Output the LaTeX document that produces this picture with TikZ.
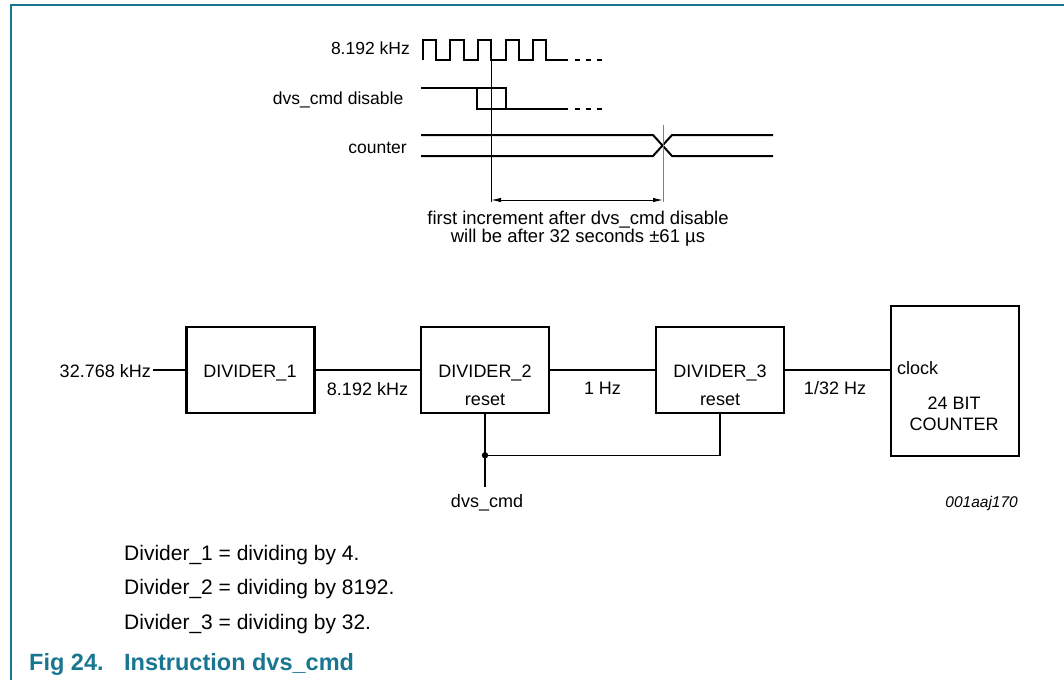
\documentclass[tikz,border=0pt]{standalone}
\usepackage{fontspec}
\setmainfont{Liberation Sans}
\usepackage{tikz}
\usetikzlibrary{arrows.meta}
\definecolor{nxpteal}{RGB}{25,118,145}

\tikzset{
  blk/.style={draw, line width=2.4pt, minimum width=128pt, minimum height=86pt, inner sep=0pt},
  wave/.style={line width=2pt},
  cont/.style={line width=2pt, dash pattern=on 5pt off 6pt},
  lbl/.style={font=\fontsize{18}{17}\selectfont, inner sep=0pt},
  sig/.style={font=\fontsize{17.5}{17}\selectfont, inner sep=0pt, anchor=base east},
  note/.style={font=\fontsize{21}{24}\selectfont, inner sep=0pt, anchor=base west},
  wire/.style={line width=1.2pt}
}

\begin{document}
\begin{tikzpicture}[x=1pt, y=-1pt]
\useasboundingbox (0,0) rectangle (1064,680);
\draw [nxpteal, line width=1.6pt] (11,680) -- (11,5) -- (1064,5);

% timing diagram
\node [sig] (clk) at (410,54) {8.192 kHz};
\node [sig] (dis) at (403.5,104) {dvs\_cmd disable};
\node [sig] (cnt) at (407,153) {counter};
\draw [wave] (422.7,60) \foreach \i in {1,...,5} {-- ++(0,-20) -- ++(13.3,0) -- ++(0,20) -- ++(14.3,0)} -- (568,60);
\draw [cont] (575,60) -- (603,60);
\draw [wave] (421,88.3) -- (506,88.3) -- (506,109.3);
\draw [wave] (477.3,88.3) -- (477.3,109.3) -- (568,109.3);
\draw [cont] (575,109.3) -- (603,109.3);
\draw [wave] (421,135) -- (653,135) -- (672,156) -- (773,156);
\draw [wave] (421,156) -- (653,156) -- (672,135) -- (773,135);
\coordinate (m0) at (491,201.5);
\coordinate (m1) at (663,201.5);
\draw [line width=1pt] (491,60) -- (m0);
\draw [line width=1pt, gray] (663,125) -- (m1);
\draw [<->, >={Latex[length=10pt,width=4.5pt]}, line width=1pt] (491,200) -- (663,200);
\node [lbl, align=center, anchor=base, font=\fontsize{18.5}{17}\selectfont] (dly) at (578,242.3) {first increment after dvs\_cmd disable\\will be after 32 seconds ±61 µs};

% block diagram
\node [lbl, anchor=base east] (in) at (151,377) {32.768 kHz};
\node [blk] (d1) at (250.5,370) {};
\node [blk] (d2) at (485,370) {};
\node [blk] (d3) at (720,370) {};
\node [blk, minimum height=150pt] (ctr) at (955,380.7) {};
\node [lbl, anchor=base] (d1t) at (250,377.3) {DIVIDER\_1};
\node [lbl, anchor=base] (d2t) at (485,377.3) {DIVIDER\_2};
\node [lbl, anchor=base] (d2r) at (485,405.7) {reset};
\node [lbl, anchor=base] (d3t) at (720,377.3) {DIVIDER\_3};
\node [lbl, anchor=base] (d3r) at (720,405.7) {reset};
\node [lbl, anchor=base west] (ck) at (897,374) {clock};
\node [lbl, anchor=base, align=center, font=\fontsize{18}{21.7}\selectfont] (ctrt) at (954,430.7) {24 BIT\\COUNTER};
\node [lbl, anchor=base] (f1) at (367.5,395) {8.192 kHz};
\node [lbl, anchor=base] (f2) at (602.5,394.5) {1 Hz};
\node [lbl, anchor=base] (f3) at (835,394.5) {1/32 Hz};
\draw [wire] (in.east |- d1.west) ++(2,0) -- (d1.west);
\draw [wire] (d1.east) -- (d2.west);
\draw [wire] (d2.east) -- (d3.west);
\draw [wire] (d3.east) -- (ctr.west |- d3.east);
\coordinate (jn) at (485,455.3);
\coordinate (cmd) at (485,486.7);
\draw [wire] (d2.south) -- (cmd);
\draw [wire] (d3.south) |- (jn);
\fill (jn) circle (3.2);
\node [lbl, anchor=base] (cmdt) at (487,507.3) {dvs\_cmd};
\node [lbl, anchor=base east, font=\fontsize{15.5}{18}\itshape] (id) at (1018,507.3) {001aaj170};

% notes
\node [note] (n1) at (124,560) {Divider\_1 = dividing by 4.};
\node [note] (n2) at (124,594) {Divider\_2 = dividing by 8192.};
\node [note] (n3) at (124,629.3) {Divider\_3 = dividing by 32.};
\node [note, font=\fontsize{23.5}{26}\bfseries, text=nxpteal] (fig) at (29,670.7) {Fig 24.};
\node [note, font=\fontsize{23.5}{26}\bfseries, text=nxpteal] (cap) at (124,670.7) {Instruction dvs\_cmd};
\end{tikzpicture}
\end{document}
